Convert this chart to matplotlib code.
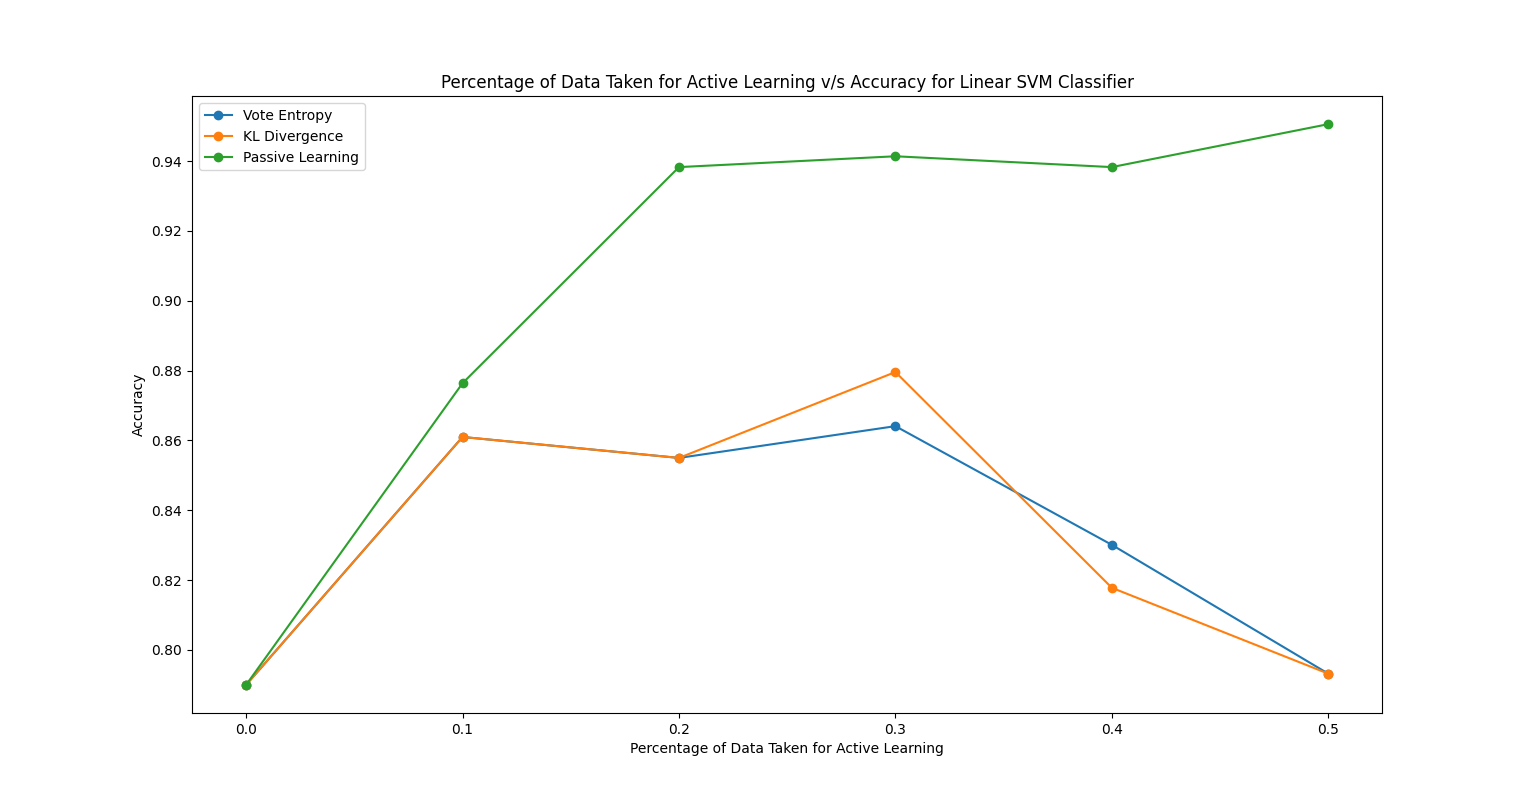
import matplotlib
matplotlib.use('Agg')
import matplotlib.pyplot as plt

# Fractions of data used for active learning
fractions = [0.0, 0.1, 0.2, 0.3, 0.4, 0.5]

# Accuracy values
vote_entropy = [0.790, 0.861, 0.855, 0.8641, 0.8301, 0.7932]
kl_divergence = [0.790, 0.861, 0.855, 0.8796, 0.8178, 0.7932]
passive_learning = [0.790, 0.8764, 0.9383, 0.9414, 0.9383, 0.9506]

plt.figure(figsize=(15.36, 8.01), dpi=100)
plt.plot(fractions, vote_entropy, marker='o', label='Vote Entropy')
plt.plot(fractions, kl_divergence, marker='o', label='KL Divergence')
plt.plot(fractions, passive_learning, marker='o', label='Passive Learning')
plt.title('Percentage of Data Taken for Active Learning v/s Accuracy for Linear SVM Classifier')
plt.xlabel('Percentage of Data Taken for Active Learning')
plt.ylabel('Accuracy')
plt.legend(loc='upper left')
plt.savefig('out.png', dpi=100)
plt.close()
